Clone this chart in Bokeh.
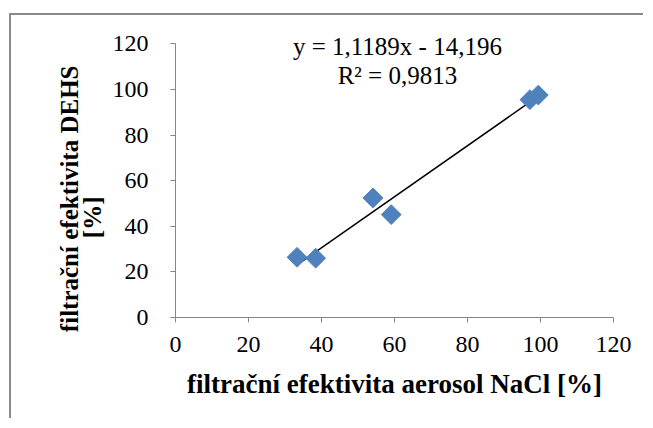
import math
from bokeh.plotting import figure
from bokeh.models import Range1d, Label, FixedTicker, Title
from bokeh.embed import file_html
from bokeh.resources import INLINE

# data
x_nacl = [33.3, 38.4, 54.1, 59.1, 97.1, 99.4]
y_dehs = [26.4, 26.0, 52.4, 45.1, 95.5, 97.5]
tick_values = [0, 20, 40, 60, 80, 100, 120]
slope = 1.1189
intercept = -14.196
eq_text = "y = 1,1189x - 14,196"
r2_text = "R² = 0,9813"
x_title = "filtrační efektivita aerosol NaCl [%]"
y_title_1 = "filtrační efektivita DEHS"
y_title_2 = "[%]"

FONT = "Liberation Serif"
AX = "#868686"

p = figure(width=634, height=405, x_range=Range1d(0, 120), y_range=Range1d(0, 128),
           output_backend="svg", toolbar_location=None,
           min_border_left=164, min_border_right=32, min_border_top=10, min_border_bottom=103,
           styles={"border-left": "2px solid #8a8a8a", "border-top": "2px solid #8a8a8a",
                   "margin-top": "13px", "margin-left": "9px"})
p.outline_line_color = None
p.grid.visible = False
p.background_fill_color = "white"
p.border_fill_color = "white"

for ax in (p.xaxis[0], p.yaxis[0]):
    ax.ticker = FixedTicker(ticks=tick_values)
    ax.bounds = (0, 120)
    ax.axis_line_color = AX
    ax.major_tick_line_color = AX
    ax.major_tick_out = 5
    ax.major_tick_in = 0
    ax.minor_tick_line_color = None
    ax.major_label_text_font = FONT
    ax.major_label_text_font_size = "24px"
    ax.major_label_text_color = "black"

p.xaxis.major_label_standoff = 14
p.yaxis.major_label_standoff = 22
p.xaxis.axis_label = x_title
p.xaxis.axis_label_text_font = FONT
p.xaxis.axis_label_text_font_style = "bold"
p.xaxis.axis_label_text_font_size = "27px"
p.xaxis.axis_label_text_color = "black"
p.xaxis.axis_label_standoff = 14

# trendline from the equation, over the data's x extent
xs = [min(x_nacl), max(x_nacl)]
ys = [slope * v + intercept for v in xs]
p.line(xs, ys, line_color="black", line_width=1.5)

p.scatter(x_nacl, y_dehs, marker="square", angle=math.pi / 4, size=14,
          fill_color="#4F81BD", line_color="#4F81BD")

for txt, yy in ((eq_text, 118.7), (r2_text, 106.0)):
    p.add_layout(Label(x=60.8, y=yy, text=txt, text_align="center", text_baseline="middle",
                       text_font=FONT, text_font_size="25px", text_color="black"))

# y axis title, two lines (inner line added first)
for txt, off, so in ((y_title_2, 171, 8), (y_title_1, 40, -21)):
    p.add_layout(Title(text=txt, align="right", offset=off, text_font=FONT,
                       text_font_style="bold", text_font_size="25px", text_color="black",
                       standoff=so), "left")

open("out.html", "w").write(file_html(p, INLINE))
